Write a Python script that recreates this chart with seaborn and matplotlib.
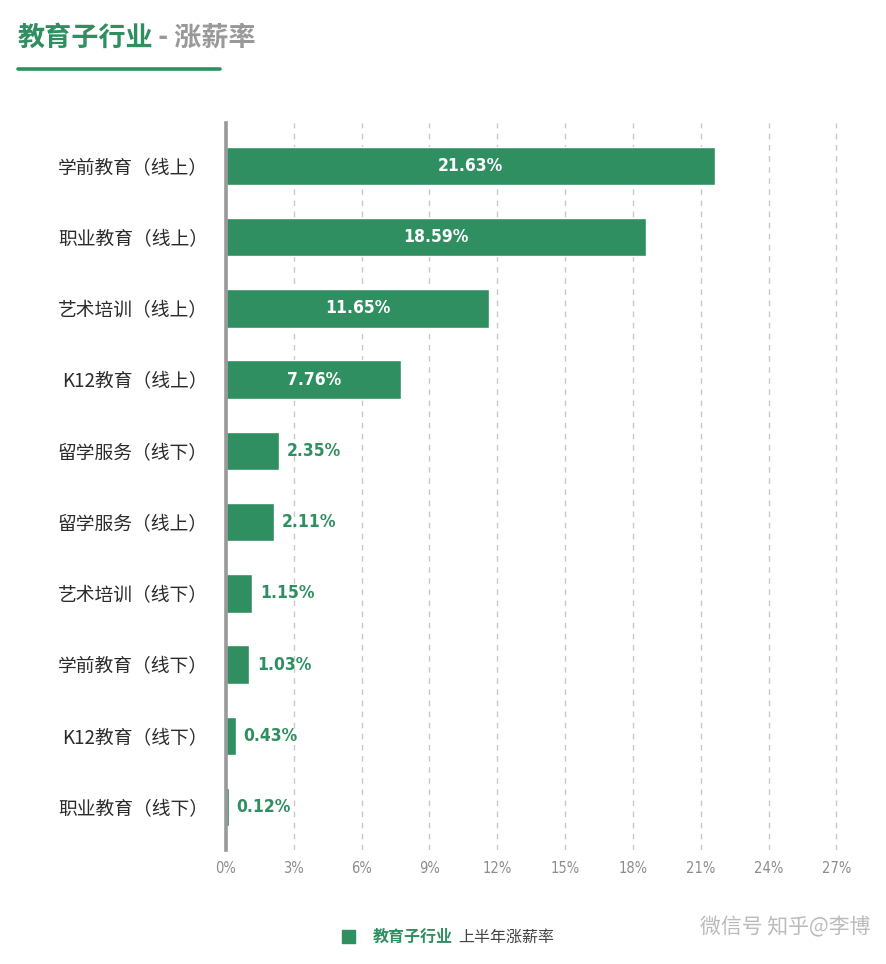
import matplotlib
matplotlib.use("Agg")
import matplotlib.pyplot as plt
import seaborn as sns
import pandas as pd
from matplotlib.patches import Rectangle
from matplotlib.lines import Line2D

categories = ["学前教育（线上）", "职业教育（线上）", "艺术培训（线上）", "K12教育（线上）",
              "留学服务（线下）", "留学服务（线上）", "艺术培训（线下）", "学前教育（线下）",
              "K12教育（线下）", "职业教育（线下）"]
values = [21.63, 18.59, 11.65, 7.76, 2.35, 2.11, 1.15, 1.03, 0.43, 0.12]
xticks = [0, 3, 6, 9, 12, 15, 18, 21, 24, 27]
xtick_labels = ["0%", "3%", "6%", "9%", "12%", "15%", "18%", "21%", "24%", "27%"]

GREEN = "#2f8f60"
GRAY = "#999999"

sns.set_theme(style="white")
plt.rcParams["font.family"] = ["Noto Sans CJK SC", "DejaVu Sans"]

df = pd.DataFrame({"cat": categories, "val": values})

fig = plt.figure(figsize=(8.86, 9.64), dpi=100)
ax = fig.add_axes([226 / 886, 1 - 850 / 964, 624 / 886, (850 - 123) / 964])

sns.barplot(data=df, y="cat", x="val", orient="h", color=GREEN, width=0.54,
            saturation=1, ax=ax, order=categories)

ax.set_xlim(0, 27.6)
ax.set_ylim(9.6, -0.6)
ax.set_xlabel("")
ax.set_ylabel("")

for s in ["top", "right", "bottom"]:
    ax.spines[s].set_visible(False)
ax.spines["left"].set_color("#999999")
ax.spines["left"].set_linewidth(2.6)
ax.spines["left"].set_zorder(5)

ax.set_xticks(xticks)
ax.set_xticklabels(xtick_labels, color="#8c8c8c", fontsize=10.5,
                   family=["DejaVu Sans"], fontstretch="condensed")
ax.tick_params(axis="x", length=0, pad=8)
ax.tick_params(axis="y", length=0, pad=13)
for lbl in ax.get_yticklabels():
    lbl.set_fontsize(13.5)
    lbl.set_color("#2b2b2b")
    lbl.set_fontweight("medium")

for x in xticks[1:]:
    ax.axvline(x, color="#c8c8c8", linestyle=(0, (4, 4)), linewidth=1, zorder=0)

for i, v in enumerate(values):
    txt = f"{v:.2f}%"
    if v > 5:
        ax.text(v / 2, i, txt, ha="center", va="center", color="white",
                fontsize=12.5, fontweight="semibold", family=["DejaVu Sans"],
                fontstretch="condensed")
    else:
        ax.text(v + 0.35, i, txt, ha="left", va="center", color=GREEN,
                fontsize=12.5, fontweight="semibold", family=["DejaVu Sans"],
                fontstretch="condensed")

# Title
fig.text(18 / 886, 1 - 38 / 964, "教育子行业", color=GREEN, fontsize=19.5,
         fontweight="bold", ha="left", va="center")
fig.text(152 / 886, 1 - 38 / 964, " - 涨薪率", color="#999999", fontsize=19.5,
         fontweight="bold", ha="left", va="center")
fig.add_artist(Line2D([18 / 886, 220 / 886], [1 - 69 / 964, 1 - 69 / 964],
                      color=GREEN, linewidth=2.6, transform=fig.transFigure))

# Legend
fig.add_artist(Rectangle((342 / 886, 1 - 943 / 964), 13 / 886, 13 / 964,
                         color=GREEN, transform=fig.transFigure))
fig.text(373 / 886, 1 - 937 / 964, "教育子行业", color=GREEN, fontsize=11.5,
         fontweight="bold", ha="left", va="center")
fig.text(458 / 886, 1 - 937 / 964, "上半年涨薪率", color="#444444", fontsize=11.5,
         ha="left", va="center")

# Watermark
fig.text(700 / 886, 1 - 927 / 964, "微信号 知乎@李博", color="#bbbbbb", fontsize=15,
         ha="left", va="center")

fig.savefig("out.png", dpi=100)
